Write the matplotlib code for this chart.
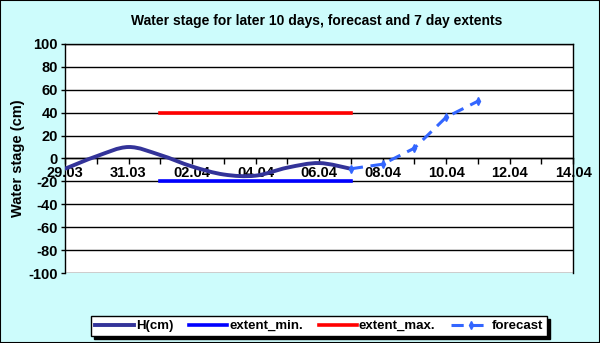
import matplotlib.pyplot as plt
import matplotlib.dates as mdates
from matplotlib.path import Path
from matplotlib.patches import PathPatch, Rectangle
from matplotlib.lines import Line2D
import numpy as np
import pandas as pd

plt.rcParams['font.family'] = ['Liberation Sans', 'DejaVu Sans']
plt.rcParams['font.weight'] = 'bold'
plt.rcParams['axes.unicode_minus'] = False

# data
h_dates = ['2011-03-29', '2011-03-30', '2011-03-31', '2011-04-01', '2011-04-02',
           '2011-04-03', '2011-04-04', '2011-04-05', '2011-04-06', '2011-04-07']
h_values = [-9, 2, 10, 3, -7, -14, -15, -8, -4, -9]

ext_dates = ['2011-04-01', '2011-04-07']
ext_min = [-20, -20]
ext_max = [40, 40]

fc_dates = ['2011-04-07', '2011-04-08', '2011-04-09', '2011-04-10', '2011-04-11']
fc_values = [-9, -5, 9, 36, 50]

x_start, x_end = '2011-03-29', '2011-04-14'

fig = plt.figure(figsize=(6, 3.43), dpi=100, facecolor='#cdfcfc')
fig.patches.append(Rectangle((0, 0), 1, 1, transform=fig.transFigure,
                             fill=False, edgecolor='black', linewidth=1.5))
ax = fig.add_axes([0.1083, 0.204, 0.847, 0.668])
ax.set_facecolor('white')

# smoothed line (like Excel's smoothed series), bezier through the points
hx = mdates.date2num(pd.to_datetime(h_dates))
hy = np.array(h_values, dtype=float)
verts = [(hx[0], hy[0])]
codes = [Path.MOVETO]
n = len(hx)
for i in range(n - 1):
    p0 = (hx[max(i - 1, 0)], hy[max(i - 1, 0)])
    p1 = (hx[i], hy[i])
    p2 = (hx[i + 1], hy[i + 1])
    p3 = (hx[min(i + 2, n - 1)], hy[min(i + 2, n - 1)])
    c1 = (p1[0] + (p2[0] - p0[0]) / 6, p1[1] + (p2[1] - p0[1]) / 6)
    c2 = (p2[0] - (p3[0] - p1[0]) / 6, p2[1] - (p3[1] - p1[1]) / 6)
    verts += [c1, c2, p2]
    codes += [Path.CURVE4] * 3
ax.add_patch(PathPatch(Path(verts, codes), fill=False, edgecolor='#333399',
                       linewidth=2.8, capstyle='round', zorder=3))

ax.plot(pd.to_datetime(ext_dates), ext_min, color='#0000ff', linewidth=2.6, zorder=3)
ax.plot(pd.to_datetime(ext_dates), ext_max, color='#ff0000', linewidth=2.6, zorder=3)
ax.plot(pd.to_datetime(fc_dates), fc_values, color='#3366ff', linewidth=2.2,
        dashes=(4, 2.5), marker='d', markersize=4, zorder=4)

ax.set_xlim(pd.Timestamp(x_start), pd.Timestamp(x_end))
ax.set_ylim(-100, 100)
ax.set_yticks(range(-100, 101, 20))
ax.grid(axis='y', color='black', linewidth=1)
ax.set_axisbelow(True)

ax.xaxis.set_major_locator(mdates.DayLocator(interval=2))
ax.xaxis.set_major_formatter(mdates.DateFormatter('%d.%m'))
ax.xaxis.set_minor_locator(mdates.DayLocator())
ax.spines['bottom'].set_position(('data', 0))
for s in ['left', 'bottom', 'right', 'top']:
    ax.spines[s].set_color('black')
    ax.spines[s].set_linewidth(1)
ax.tick_params(axis='x', which='both', direction='out', length=4, width=1,
               labelsize=10.5, pad=1.5)
ax.tick_params(axis='y', direction='out', length=3, width=1, labelsize=10.5, pad=2)

fig.text(0.527, 1 - 21 / 343, 'Water stage for later 10 days, forecast and 7 day extents',
         ha='center', va='center', fontsize=10, fontweight='bold')
fig.text(0.03, 1 - 158 / 343, 'Water stage (cm)', rotation=90,
         ha='center', va='center', fontsize=10.5, fontweight='bold')

handles = [
    Line2D([], [], color='#333399', linewidth=2.8),
    Line2D([], [], color='#0000ff', linewidth=2.6),
    Line2D([], [], color='#ff0000', linewidth=2.6),
    Line2D([], [], color='#3366ff', linewidth=2.2, dashes=(4, 2.5), marker='d', markersize=4),
]
labels = ['H(cm)', 'extent_min.', 'extent_max.', 'forecast']
leg = fig.legend(handles, labels, loc='center', bbox_to_anchor=(0.532, 1 - 326 / 343),
                 ncol=4, frameon=True, fancybox=False, shadow={'color': 'black', 'alpha': 1},
                 edgecolor='black', facecolor='white', framealpha=1,
                 prop={'size': 9.5, 'weight': 'bold'}, handlelength=2.9,
                 handletextpad=0.15, columnspacing=1.2, borderpad=0.3)
leg.get_frame().set_linewidth(1)

fig.savefig('out.png', dpi=100, facecolor=fig.get_facecolor())
